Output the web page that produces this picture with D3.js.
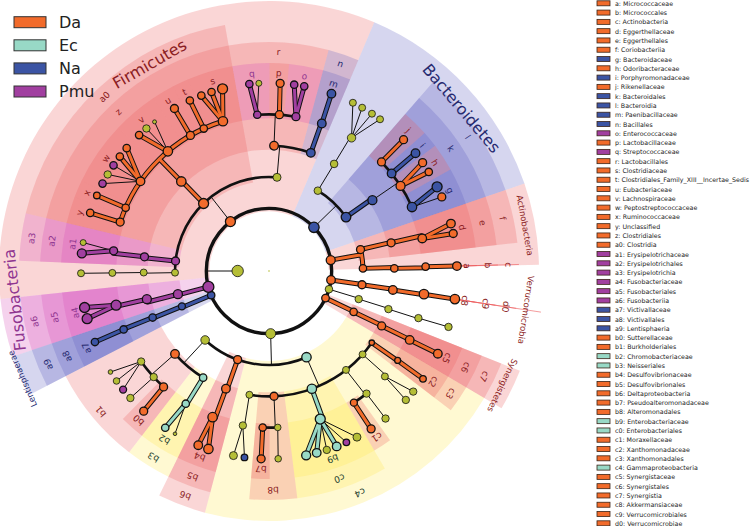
<!DOCTYPE html>
<html><head><meta charset="utf-8">
<script src="https://cdn.jsdelivr.net/npm/d3@7"></script>
<style>body{margin:0;background:#fff}svg{display:block}text{font-family:"DejaVu Sans",sans-serif}</style>
</head><body><svg id="c" width="750" height="526"></svg>
<script>
// ---------------- data ----------------
const classNames = ["Da","Ec","Na","Pmu"];
// id, parent, level, angle (deg, clockwise from north), biomarker class, abundance marker
const taxa = [
 ["root","",0,0,"",0.8],
 ["Bacteria","root",1,-90,"",5.7],
 ["Firmicutes","Bacteria",2,-38,"Da",5],
 ["Bacteroidetes","Bacteria",2,45.8,"Na",5.2],
 ["Actinobacteria","Bacteria",2,80,"Da",4.5],
 ["Verrucomicrobia","Bacteria",2,98.2,"Da",4.3],
 ["Tenericutes","Bacteria",2,106.9,"",3.8],
 ["Synergistetes","Bacteria",2,115.6,"Da",3.8],
 ["Proteobacteria","Bacteria",2,178.5,"",5],
 ["Lentisphaerae","Bacteria",2,247.3,"Na",3.7],
 ["Fusobacteria","Bacteria",2,255.3,"Pmu",5.5],
 ["Negativicutes","Firmicutes",3,-91,"",3.5],
 ["Selenomonadales","Negativicutes",4,-90.7,"",3.5],
 ["Veillonellaceae","Selenomonadales",5,-90.7,"",3.5],
 ["Veillonella","Veillonellaceae",6,-90.7,"",3.5],
 ["a3","Firmicutes",3,-83.9,"Pmu",4],
 ["a2","a3",4,-83.5,"Pmu",4],
 ["a1","a2",5,-82.6,"Pmu",4],
 ["a1_g1","a1",6,-84.6,"Pmu",4.5],
 ["a1_g2","a1",6,-81.3,"",3],
 ["a0","Firmicutes",3,-44.1,"Da",5],
 ["z","a0",4,-44.4,"Da",4.7],
 ["y","z",5,-71.8,"Da",4],
 ["y_g1","y",6,-72,"Da",3.7],
 ["x","z",5,-66.2,"Da",3.7],
 ["x_g1","x",6,-66.3,"Da",3.3],
 ["w","z",5,-55.1,"Da",4.3],
 ["w_g1","w",6,-62.3,"Pmu",3.7],
 ["w_g2","w",6,-59.1,"",3.7],
 ["w_g3","w",6,-55.8,"Pmu",3.7],
 ["w_g4","w",6,-52.5,"Da",3.7],
 ["w_g5","w",6,-49.2,"Da",3.7],
 ["v","z",5,-40.2,"Da",4.7],
 ["v_g1","v",6,-43.7,"Da",3.7],
 ["v_g2","v",6,-40.7,"",3.7],
 ["v_g3","v",6,-37.5,"",2],
 ["u","z",5,-30.1,"Da",4],
 ["u_g1","u",6,-30.2,"Da",4],
 ["t","z",5,-24.6,"Da",3.7],
 ["t_g1","t",6,-24.9,"Da",3.7],
 ["s","z",5,-17.1,"Da",4.7],
 ["s_g1","s",6,-21.1,"Da",3.7],
 ["s_g2","s",6,-17.8,"Da",3.7],
 ["s_g3","s",6,-14.3,"Da",5],
 ["Bacilli","Firmicutes",3,4.9,"",4],
 ["r","Bacilli",4,2.3,"Da",4.3],
 ["q","r",5,-4.3,"Pmu",3.7],
 ["q_g1","q",6,-6,"Pmu",3.7],
 ["q_g2","q",6,-3.1,"",3],
 ["p","r",5,3.8,"Da",4],
 ["p_g1","p",6,3.4,"Da",4],
 ["o","r",5,9.9,"Pmu",4],
 ["o_g1","o",6,7.7,"Pmu",3.7],
 ["o_g2","o",6,10.8,"Pmu",3.7],
 ["n","Bacilli",4,19.5,"Na",4.3],
 ["m","n",5,19.7,"Na",4.3],
 ["m_g1","m",6,19.4,"Na",4.3],
 ["Flavobacteriia","Bacteroidetes",3,31.3,"",3.8],
 ["Flavobacteriales","Flavobacteriia",4,31.3,"",3.8],
 ["Flavobacteriaceae","Flavobacteriales",5,31.8,"",4.2],
 ["fl_g1","Flavobacteriaceae",6,26.5,"",3.5],
 ["fl_g2","Flavobacteriaceae",6,29.7,"",3.5],
 ["fl_g3","Flavobacteriaceae",6,33.2,"",3.5],
 ["fl_g4","Flavobacteriaceae",6,36.2,"",3.5],
 ["l","Bacteroidetes",3,55,"Na",4.8],
 ["k","l",4,55.6,"Na",4.5],
 ["j","k",5,45.9,"Da",4],
 ["j_g1","j",6,45.7,"Da",4],
 ["i","k",5,51.5,"Na",4.3],
 ["i_g1","i",6,51.2,"Na",4.3],
 ["h","k",5,57.1,"Da",4.5],
 ["h_g1","h",6,54.8,"Da",4],
 ["h_g2","h",6,58.2,"Da",3.7],
 ["g","k",5,65.9,"Na",4.7],
 ["g_g1","g",6,63.4,"Na",5],
 ["g_g2","g",6,66.8,"Da",4],
 ["f","Actinobacteria",3,76.8,"Da",4],
 ["e","f",4,77,"Da",4],
 ["d","e",5,78,"Da",4.3],
 ["d_g1","d",6,75.4,"Da",4.3],
 ["d_g2","d",6,78.5,"Da",4],
 ["c","Actinobacteria",3,88.4,"Da",3.7],
 ["b","c",4,88.8,"Da",3.7],
 ["a","b",5,88.4,"Da",3.7],
 ["a_g1","a",6,88.5,"Da",4.3],
 ["d0","Verrucomicrobia",3,98.4,"Da",4],
 ["c9","d0",4,98.7,"Da",4.3],
 ["c8","c9",5,98.5,"Da",4.7],
 ["c8_g1","c8",6,98.6,"Da",4.7],
 ["Mollicutes","Tenericutes",3,107.4,"",3.7],
 ["mo_o","Mollicutes",4,107.7,"",3.7],
 ["mo_f","mo_o",5,107.5,"",3.7],
 ["mo_g","mo_f",6,107.3,"",3.7],
 ["c7","Synergistetes",3,115.8,"Da",3.7],
 ["c6","c7",4,116,"Da",4],
 ["c5","c6",5,116.1,"Da",4.3],
 ["c5_g1","c5",6,116.1,"Da",4.3],
 ["c4","Proteobacteria",3,156.5,"Ec",4.7],
 ["c3","c4",4,124.9,"Da",2.7],
 ["c2","c3",5,124.8,"Da",3],
 ["c2_g1","c2",6,125,"Da",3.3],
 ["go1","c4",4,131.7,"",3.5],
 ["go1_f","go1",5,132.3,"",3.5],
 ["go1_g1","go1_f",6,129.9,"",3.7],
 ["go1_g2","go1_f",6,133.3,"",3.7],
 ["go2","c4",4,142.1,"",3.5],
 ["go2_f","go2",5,141.5,"",3.7],
 ["go2_g1","go2_f",6,141.7,"",3.7],
 ["c1","go2",5,147.2,"Da",3.5],
 ["c1_g1","c1",6,147.1,"Da",4],
 ["c0","c4",4,160,"Ec",4.7],
 ["b9","c0",5,160.9,"Ec",5],
 ["b9_g1","b9",6,152.1,"",4],
 ["b9_g2","b9",6,155.7,"Pmu",3.3],
 ["b9_g3","b9",6,158.9,"Ec",4.3],
 ["b9_g4","b9",6,162.1,"",3.7],
 ["b9_g5","b9",6,165.3,"Ec",4.3],
 ["b9_g6","b9",6,168.6,"Ec",4.5],
 ["b8","c4",4,177.7,"Da",4],
 ["af","b8",5,176.8,"",3.3],
 ["af_g","af",6,177.2,"",3.3],
 ["b7","b8",5,182.3,"Da",3.7],
 ["b7_g1","b7",6,182.4,"Da",4],
 ["go3","c4",4,189,"",3.5],
 ["go3_f","go3",5,189.6,"",3.7],
 ["go3_g1","go3_f",6,187.5,"Na",3.3],
 ["go3_g2","go3_f",6,190.9,"",4],
 ["b6","Proteobacteria",3,199.5,"Da",4],
 ["b5","b6",4,200.1,"Da",4.3],
 ["b4","b5",5,201.1,"Da",4.7],
 ["b4_g1","b4",6,198.8,"Da",4.7],
 ["b4_g2","b4",6,202.1,"Da",4.3],
 ["Beta","Proteobacteria",3,222.8,"",4.3],
 ["b3","Beta",4,211.7,"Ec",3.7],
 ["b2","b3",5,212.1,"Ec",3.7],
 ["b2_g1","b2",6,210,"",1.8],
 ["b2_g2","b2",6,213.5,"Ec",3.7],
 ["b1","Beta",4,228.6,"Da",4.3],
 ["b0","b1",5,222.3,"Da",4],
 ["b0_g1","b0",6,221.8,"Da",4],
 ["bf1","b1",5,227.4,"",3.7],
 ["bf1_g","bf1",6,227.5,"",3.7],
 ["bf2","b1",5,234.7,"",3.7],
 ["bf2_g1","bf2",6,230.9,"Pmu",3.5],
 ["bf2_g2","bf2",6,234.2,"",3.3],
 ["bf2_g3","bf2",6,237.5,"",2.3],
 ["a9","Lentisphaerae",3,247.9,"Na",3.5],
 ["a8","a9",4,248.2,"Na",3.7],
 ["a7","a8",5,248.1,"Na",3.7],
 ["a7_g1","a7",6,247.8,"Na",3.7],
 ["a6","Fusobacteria",3,255.7,"Pmu",4.5],
 ["a5","a6",4,257,"Pmu",4.5],
 ["a4","a5",5,257.4,"Pmu",5],
 ["a4_g1","a4",6,255.3,"Pmu",5],
 ["a4_g2","a4",6,258.8,"Pmu",5]
];
// highlighted clades: id, start angle, end angle (deg)
const highlights = [
 ["Firmicutes",-95.95,22.95],["Bacteroidetes",22.95,71.1],["Actinobacteria",71.1,88.7],
 ["Verrucomicrobia",98.6,98.6],["Synergistetes",111.7,120.55],["Lentisphaerae",242.65,251.55],["Fusobacteria",251.55,264.05],
 ["a3",-87.65,-76.65],["a0",-76.65,-10.15],["l",40.95,71.1],["f",71.1,83.5],["c",88.5,88.5],["d0",98.6,98.6],
 ["c7",111.7,120.55],["c4",120.55,194.85],["b6",194.85,206.05],["a9",242.65,251.55],["a6",251.55,264.05],
 ["a2",-87.65,-76.65],["z",-76.65,-10.15],["r",-10.15,15.1],["n",15.1,22.95],["k",40.95,71.1],["e",71.1,83.5],
 ["b",88.5,88.5],["c9",98.6,98.6],["c6",111.7,120.55],["c3",120.55,127.45],["c0",149.6,172.9],["b8",172.9,184.95],
 ["b5",194.85,206.05],["b3",206.05,217.65],["b1",217.65,242.65],["a8",242.65,251.55],["a5",251.55,264.05],
 ["a1",-87.65,-76.65],["y",-76.65,-69.15],["x",-69.15,-64.3],["w",-64.3,-46.45],["v",-46.45,-33.85],["u",-33.85,-27.55],
 ["t",-27.55,-23],["s",-23,-10.15],["q",-10.15,0.15],["p",0.15,5.55],["o",5.55,15.1],["m",15.1,22.95],
 ["j",40.95,48.45],["i",48.45,53],["h",53,60.8],["g",60.8,71.1],["d",71.1,83.5],["a",88.5,88.5],["c8",98.6,98.6],
 ["c5",111.7,120.55],["c2",120.55,127.45],["c1",144.4,149.6],["b9",149.6,172.9],["b7",179.8,184.95],["b4",194.85,206.05],
 ["b2",206.05,217.65],["b0",217.65,224.65],["a7",242.65,251.55],["a4",251.55,264.05]
];
// phylum name labels: id, angle of label centre (deg), distance of label centre from the middle
const phylumLabels = [["Firmicutes",330,239],["Bacteroidetes",49.8,252],["Fusobacteria",263.5,256],
 ["Actinobacteria",79.9,260],["Verrucomicrobia",98.6,260],["Synergistetes",116.1,260],["Lentisphaerae",246.4,269]];
const bigPhyla = ["Firmicutes","Bacteroidetes","Fusobacteria"];
const cladeKeys = ["a","b","c","d","e","f","g","h","i","j","k","l","m","n","o","p","q","r","s","t","u","v","w","x","y","z",
 "a0","a1","a2","a3","a4","a5","a6","a7","a8","a9","b0","b1","b2","b3","b4","b5","b6","b7","b8","b9",
 "c0","c1","c2","c3","c4","c5","c6","c7","c8","c9","d0"];
const cladeNames = ["Micrococcaceae","Micrococcales","Actinobacteria","Eggerthellaceae","Eggerthellales","Coriobacteriia",
 "Bacteroidaceae","Odoribacteraceae","Porphyromonadaceae","Rikenellaceae","Bacteroidales","Bacteroidia","Paenibacillaceae",
 "Bacillales","Enterococcaceae","Lactobacillaceae","Streptococcaceae","Lactobacillales","Clostridiaceae",
 "Clostridiales_Family_XIII__Incertae_Sedis","Eubacteriaceae","Lachnospiraceae","Peptostreptococcaceae","Ruminococcaceae",
 "Unclassified","Clostridiales","Clostridia","Erysipelotrichaceae","Erysipelotrichales","Erysipelotrichia","Fusobacteriaceae",
 "Fusobacteriales","Fusobacteriia","Victivallaceae","Victivallales","Lentisphaeria","Sutterellaceae","Burkholderiales",
 "Chromobacteriaceae","Neisseriales","Desulfovibrionaceae","Desulfovibrionales","Deltaproteobacteria","Pseudoalteromonadaceae",
 "Alteromonadales","Enterobacteriaceae","Enterobacteriales","Moraxellaceae","Xanthomonadaceae","Xanthomonadales",
 "Gammaproteobacteria","Synergistaceae","Synergistales","Synergistia","Akkermansiaceae","Verrucomicrobiales","Verrucomicrobiae"];

// ---------------- styles ----------------
const nodeColor = {Da:"#f26b2b",Ec:"#98d9c6",Na:"#3b54a4",Pmu:"#a13fa0","":"#b5be36"};
const shadeColor = {Da:"#ec5a5c",Ec:"#ffe94a",Na:"#5c5cc0",Pmu:"#d64cb8"};
const labelColor = {Da:"#8a1c22",Ec:"#23402f",Na:"#262a70",Pmu:"#8f3590"};
const legendFill = {Da:"#f26b2b",Ec:"#98d9c6",Na:"#3b54a4",Pmu:"#a13fa0"};

const cx = 269, cy = 271;
const svg = d3.select("#c");
const rScale = d3.scaleLinear().domain([0,6]).range([0,188]);
const aScale = d3.scaleLinear().domain([0,360]).range([0,2*Math.PI]);
const pt = (deg, r) => d3.pointRadial(aScale(deg), r);
const wedgeOuter = d3.scaleOrdinal().domain([2,3,4,5]).range([270,250,229,208]);
const labelR = d3.scaleOrdinal().domain([2,3,4,5]).range([260,239.5,219,198]);

const byId = new Map(taxa.map(d => [d[0], d]));
const root = d3.stratify().id(d => d[0]).parentId(d => d[1] || null)(taxa);

const G = svg.append("g").attr("transform", `translate(${cx},${cy})`);

// wedges
const gW = G.append("g");
highlights.forEach(([id, a0, a1]) => {
  const t = byId.get(id), lv = t[2], cls = t[4];
  const rin = rScale(lv) - (lv === 2 ? 3 : 4), rout = wedgeOuter(lv);
  if (a1 - a0 < 0.01) {
    const p0 = pt(a0, rin), p1 = pt(a0, rout + (lv === 2 ? 5 : 0));
    gW.append("line").attr("x1",p0[0]).attr("y1",p0[1]).attr("x2",p1[0]).attr("y2",p1[1])
      .attr("stroke", shadeColor[cls]).attr("stroke-opacity",0.6).attr("stroke-width",1);
  } else {
    gW.append("path").attr("d", d3.arc()({innerRadius:rin, outerRadius:rout, startAngle:aScale(a0), endAngle:aScale(a1)}))
      .attr("fill", shadeColor[cls]).attr("fill-opacity", 0.25);
  }
});

// edges
const thin = [], thickBlack = [], colored = [];
function arcPath(r, a0, a1) {
  const p = d3.path();
  const s = pt(a0, r);
  p.moveTo(s[0], s[1]);
  p.arc(0, 0, r, aScale(a0) - Math.PI/2, aScale(a1) - Math.PI/2, false);
  return p.toString();
}
root.each(n => {
  if (!n.children || n.depth === 0) return;
  const [, , lv, a, cls] = n.data;
  const kids = n.children;
  const klv = kids[0].data[2];
  if (klv === 6) {
    kids.forEach(k => {
      const p0 = pt(a, rScale(lv)), p1 = pt(k.data[3], rScale(6));
      const d = `M${p0[0]},${p0[1]}L${p1[0]},${p1[1]}`;
      if (cls && k.data[4] === cls) colored.push({d, cls}); else thin.push(d);
    });
  } else {
    const rr = rScale(klv);
    const p0 = pt(a, rScale(lv)), p1 = pt(a, rr);
    const radial = `M${p0[0]},${p0[1]}L${p1[0]},${p1[1]}`;
    let arc;
    if (lv === 1) {
      const p = d3.path(); p.moveTo(rr, 0); p.arc(0, 0, rr, 0, 2*Math.PI); arc = p.toString();
    } else {
      const angs = kids.map(k => k.data[3]).concat([a]);
      arc = arcPath(rr, d3.min(angs), d3.max(angs));
    }
    const same = cls && lv >= 2 && kids.every(k => k.data[4] === cls);
    if (same) colored.push({d: radial + arc, cls});
    else { thin.push(radial); thickBlack.push({d: arc, w: lv === 1 ? 3.4 : 2.6}); }
  }
});
const gE = G.append("g").attr("fill","none").attr("stroke-linecap","round");
gE.selectAll("path.thin").data(thin).join("path").attr("class","thin").attr("d", d => d)
  .attr("stroke","#111").attr("stroke-width",1);
gE.selectAll("path.tb").data(thickBlack).join("path").attr("class","tb").attr("d", d => d.d)
  .attr("stroke","#111").attr("stroke-width", d => d.w).attr("stroke-linecap","butt");
gE.selectAll("path.co").data(colored).join("path").attr("class","co").attr("d", d => d.d)
  .attr("stroke","#111").attr("stroke-width",5);
gE.selectAll("path.ci").data(colored).join("path").attr("class","ci").attr("d", d => d.d)
  .attr("stroke", d => nodeColor[d.cls]).attr("stroke-width",3);

// nodes
G.append("g").selectAll("circle").data(root.descendants()).join("circle")
  .attr("cx", d => pt(d.data[3], rScale(d.data[2]))[0])
  .attr("cy", d => pt(d.data[3], rScale(d.data[2]))[1])
  .attr("r", d => d.data[5])
  .attr("fill", d => nodeColor[d.data[4]])
  .attr("stroke", d => d.depth === 0 ? "none" : "#111")
  .attr("stroke-width", d => d.data[4] ? 1.3 : 0.8);

// clade letter labels
const gL = G.append("g");
highlights.forEach(([id, a0, a1]) => {
  const t = byId.get(id), lv = t[2];
  if (lv === 2) return;
  const mid = (a0 + a1) / 2, p = pt(mid, labelR(lv));
  gL.append("text").attr("transform", `translate(${p[0]},${p[1]}) rotate(${mid})`)
    .attr("text-anchor","middle").attr("dominant-baseline","central")
    .attr("font-size", 9).attr("fill", labelColor[t[4]]).text(id);
});
// phylum names
phylumLabels.forEach(([id, ang, rad]) => {
  const big = bigPhyla.includes(id);
  const p = pt(ang, rad);
  gL.append("text").attr("transform", `translate(${p[0]},${p[1]}) rotate(${ang})`)
    .attr("text-anchor","middle").attr("dominant-baseline","central")
    .attr("font-size", big ? 16 : 8.5).attr("fill", labelColor[byId.get(id)[4]]).text(id);
});

// left legend
const gLeg = svg.append("g");
classNames.forEach((c, i) => {
  const y = 22.2 + i * 23.1;
  gLeg.append("rect").attr("x",14).attr("y",y-5.5).attr("width",32).attr("height",11)
    .attr("fill", legendFill[c]).attr("stroke","#333").attr("stroke-width",1);
  gLeg.append("text").attr("x",59).attr("y",y).attr("dominant-baseline","central")
    .attr("font-size",16).attr("fill","#222").text(c);
});
// right legend
const gR = svg.append("g");
cladeKeys.forEach((k, i) => {
  const y = 3.3 + i * 9.286, cls = byId.get(k)[4];
  gR.append("rect").attr("x",597).attr("y",y-2.5).attr("width",13).attr("height",5)
    .attr("fill", legendFill[cls]).attr("stroke","#3a2418").attr("stroke-width",0.8);
  gR.append("text").attr("x",615).attr("y",y).attr("dominant-baseline","central")
    .attr("font-size",6.3).attr("fill","#222").text(`${k}: ${cladeNames[i]}`);
});
</script></body></html>
